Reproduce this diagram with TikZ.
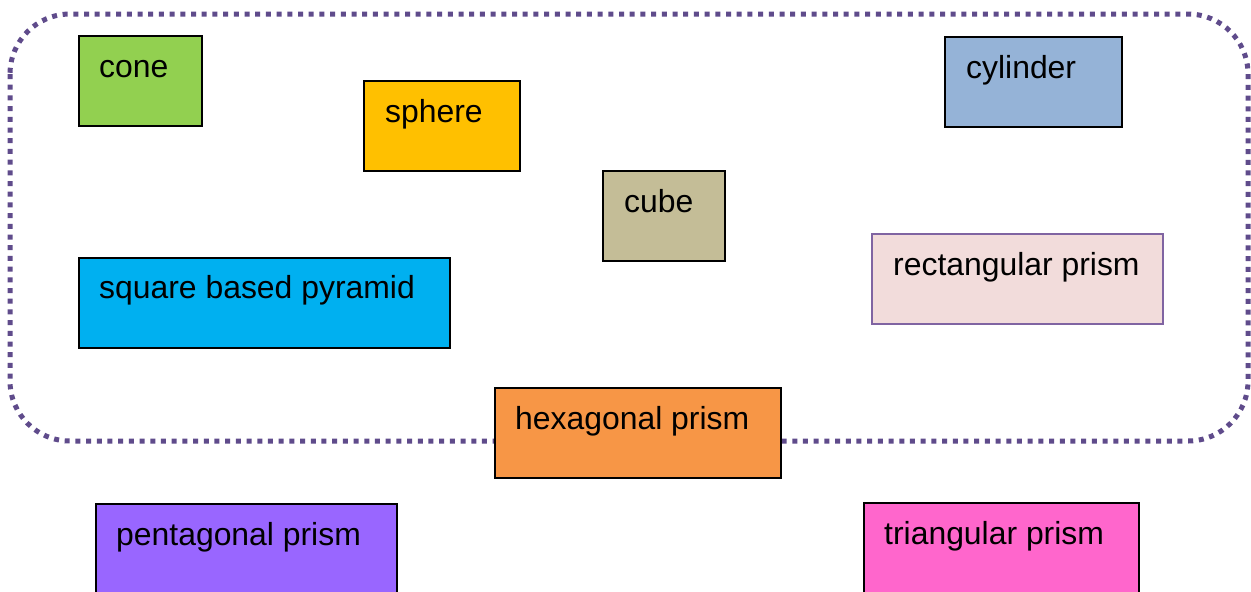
\documentclass[tikz,border=0pt]{standalone}
\usepackage{fontspec}
\setmainfont{Liberation Sans}
\definecolor{framepurple}{HTML}{5F4B8B}
\definecolor{conegreen}{HTML}{92D050}
\definecolor{spheregold}{HTML}{FFC000}
\definecolor{cubetan}{HTML}{C4BD97}
\definecolor{cylblue}{HTML}{95B3D7}
\definecolor{rectpink}{HTML}{F2DCDB}
\definecolor{rectedge}{HTML}{8064A2}
\definecolor{pyrcyan}{HTML}{00B0F0}
\definecolor{hexorange}{HTML}{F79646}
\definecolor{pentviolet}{HTML}{9966FF}
\definecolor{trimagenta}{HTML}{FF66CC}
\begin{document}
\begin{tikzpicture}[x=1pt,y=-1pt,
  shapebox/.style={draw=black, line width=2pt, rectangle, anchor=north west, inner sep=0pt, outer sep=0pt},
  shapelabel/.style={anchor=base west, inner sep=0pt, font=\fontsize{31.9}{36}\selectfont},
  groupframe/.style={draw=framepurple, line width=5pt, dash pattern=on 5pt off 5.7pt, rounded corners=60pt}]
\useasboundingbox (0,0) rectangle (1251,592);
\fill[white] (0,0) rectangle (1251,592);

% dotted group outline
\draw[groupframe] (10,14) rectangle (1248,441);

% solids
\node[shapebox, fill=conegreen, minimum width=123pt, minimum height=90pt] (cone) at (79,36) {};
\node[shapebox, fill=spheregold, minimum width=156pt, minimum height=90pt] (sphere) at (364,81) {};
\node[shapebox, fill=cubetan, minimum width=122pt, minimum height=90pt] (cube) at (603,171) {};
\node[shapebox, fill=cylblue, minimum width=177pt, minimum height=90pt] (cylinder) at (945,37) {};
\node[shapebox, fill=rectpink, draw=rectedge, line width=1.6pt, minimum width=291pt, minimum height=90pt] (rectprism) at (872,234) {};
\node[shapebox, fill=pyrcyan, minimum width=371pt, minimum height=90pt] (pyramid) at (79,258) {};
\node[shapebox, fill=hexorange, minimum width=286pt, minimum height=90pt] (hexprism) at (495,388) {};
\node[shapebox, fill=pentviolet, minimum width=301pt, minimum height=100pt] (pentprism) at (96,504) {};
\node[shapebox, fill=trimagenta, minimum width=275pt, minimum height=100pt] (triprism) at (864,503) {};

% labels
\node[shapelabel] (conelbl) at ([shift={(20,41)}]cone.north west) {cone};
\node[shapelabel] (spherelbl) at ([shift={(21,41)}]sphere.north west) {sphere};
\node[shapelabel] (cubelbl) at ([shift={(21,41)}]cube.north west) {cube};
\node[shapelabel] (cyllbl) at ([shift={(21,41)}]cylinder.north west) {cylinder};
\node[shapelabel] (rectlbl) at ([shift={(21,41)}]rectprism.north west) {rectangular prism};
\node[shapelabel] (pyrlbl) at ([shift={(20,40)}]pyramid.north west) {square based pyramid};
\node[shapelabel] (hexlbl) at ([shift={(20,41)}]hexprism.north west) {hexagonal prism};
\node[shapelabel] (pentlbl) at ([shift={(20,41)}]pentprism.north west) {pentagonal prism};
\node[shapelabel] (trilbl) at ([shift={(20,41)}]triprism.north west) {triangular prism};
\end{tikzpicture}
\end{document}
